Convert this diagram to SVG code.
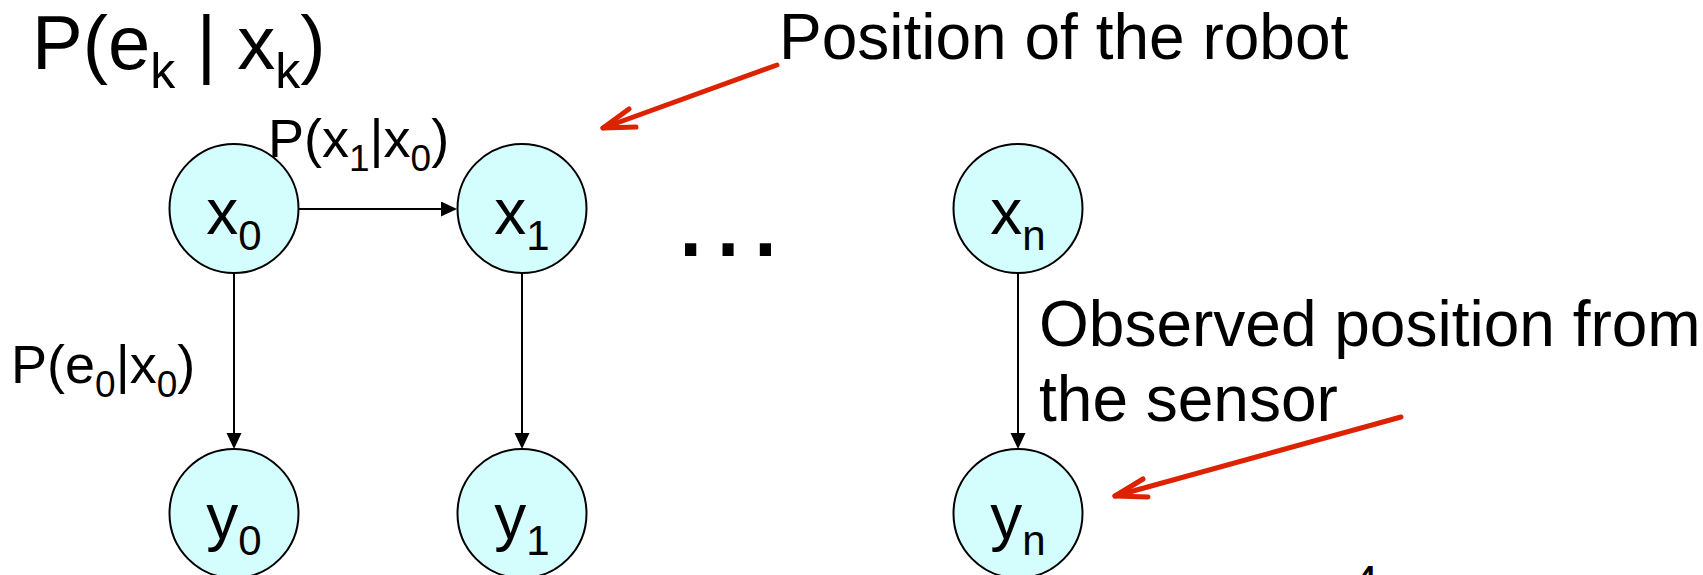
<svg xmlns="http://www.w3.org/2000/svg" width="1703" height="575" viewBox="0 0 1703 575">
<style>
text{font-family:"Liberation Sans",Arial,sans-serif;fill:#000}
.node circle{fill:#D4FEFE;stroke:#000;stroke-width:2}
.lbl{font-size:64px;text-anchor:middle}
.sub{font-size:42px}
.edge{stroke:#000;stroke-width:2;fill:none}
.red{stroke:#DD2200;stroke-width:5;fill:none;stroke-linecap:round;stroke-linejoin:round}
.ann{font-size:64px}
.plab{font-size:54px}
.psub{font-size:37px}
</style>
<defs>
<marker id="ah" markerUnits="userSpaceOnUse" markerWidth="17" markerHeight="16" refX="0" refY="7.5" orient="auto">
<path d="M0,0 L16,7.5 L0,15 z" fill="#000"/>
</marker>
</defs>
<rect width="1703" height="575" fill="#fff"/>

<text id="title" x="32" y="69" font-size="76">P(e<tspan font-size="50" dy="19">k</tspan><tspan dy="-19"> | x</tspan><tspan font-size="50" dy="19">k</tspan><tspan dy="-19">)</tspan></text>

<g id="connectors">
<line class="edge" x1="298" y1="209" x2="441" y2="209" marker-end="url(#ah)"/>
<line class="edge" x1="234" y1="273" x2="234" y2="433" marker-end="url(#ah)"/>
<line class="edge" x1="522" y1="273" x2="522" y2="433" marker-end="url(#ah)"/>
<line class="edge" x1="1018" y1="273" x2="1018" y2="433" marker-end="url(#ah)"/>
</g>

<g id="node-x0" class="node"><circle cx="234" cy="208.5" r="64.5"/><text class="lbl" x="234" y="234">x<tspan class="sub" dy="16">0</tspan></text></g>
<g id="node-x1" class="node"><circle cx="522" cy="208.5" r="64.5"/><text class="lbl" x="522" y="234">x<tspan class="sub" dy="16">1</tspan></text></g>
<g id="node-xn" class="node"><circle cx="1018" cy="208.5" r="64.5"/><text class="lbl" x="1018" y="234">x<tspan class="sub" dy="16">n</tspan></text></g>
<g id="node-y0" class="node"><circle cx="234" cy="513.5" r="64.5"/><text class="lbl" x="234" y="539">y<tspan class="sub" dy="16">0</tspan></text></g>
<g id="node-y1" class="node"><circle cx="522" cy="513.5" r="64.5"/><text class="lbl" x="522" y="539">y<tspan class="sub" dy="16">1</tspan></text></g>
<g id="node-yn" class="node"><circle cx="1018" cy="513.5" r="64.5"/><text class="lbl" x="1018" y="539">y<tspan class="sub" dy="16">n</tspan></text></g>

<text id="lbl-trans" class="plab" x="268" y="157">P(x<tspan class="psub" dy="14">1</tspan><tspan dy="-14">|x</tspan><tspan class="psub" dy="14">0</tspan><tspan dy="-14">)</tspan></text>
<text id="lbl-emit" class="plab" x="11" y="383">P(e<tspan class="psub" dy="14">0</tspan><tspan dy="-14">|x</tspan><tspan class="psub" dy="14">0</tspan><tspan dy="-14">)</tspan></text>

<text id="dots" x="669" y="256" font-size="118">…</text>

<g id="annot-robot">
<text class="ann" x="779" y="59">Position of the robot</text>
<path class="red" d="M777,65 L603,128"/>
<path class="red" d="M629,109 L603,128 L636,127"/>
</g>

<g id="annot-sensor">
<text class="ann" x="1039" y="346">Observed position from</text>
<text class="ann" x="1039" y="421">the sensor</text>
<path class="red" d="M1401,417 L1115,496"/>
<path class="red" d="M1143,479 L1115,496 L1148,497"/>
</g>

<text id="page" x="1352" y="599" font-size="48">4</text>
</svg>
